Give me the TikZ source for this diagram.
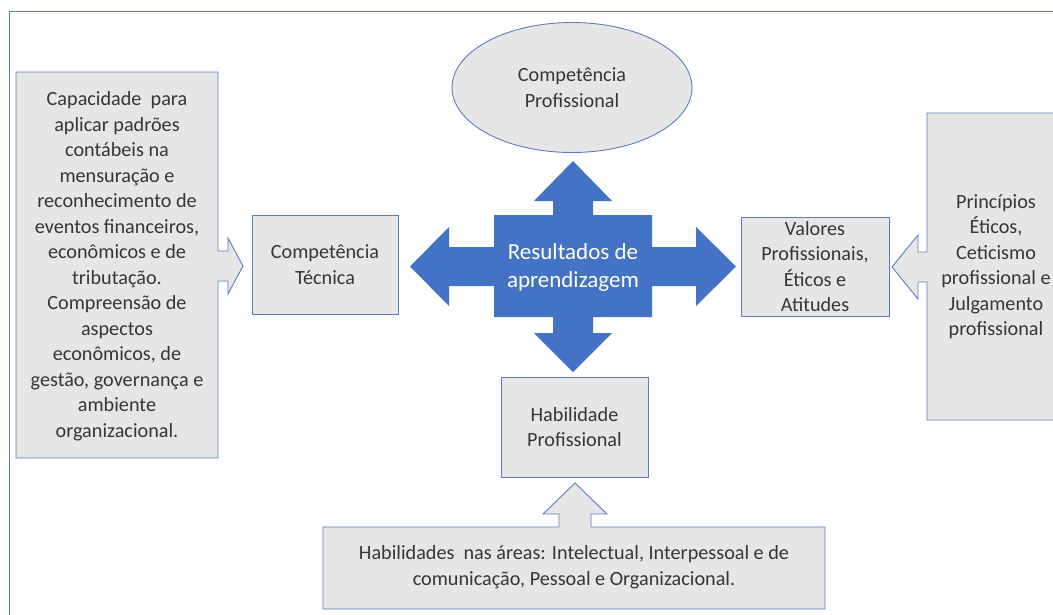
\documentclass[tikz,border=0pt]{standalone}
\usepackage{fontspec}
\setmainfont{Carlito}
\usetikzlibrary{shapes.geometric}
\definecolor{boxfill}{HTML}{E7E6E6}
\definecolor{boxline}{HTML}{5B7DBD}
\definecolor{txt}{HTML}{363636}
\definecolor{accent}{HTML}{4472C4}
\tikzset{
  shapefill/.style={fill=boxfill, draw=boxline, line width=0.9pt, line join=miter},
  boxnode/.style={shapefill, rectangle, inner sep=0pt, align=center, text=txt,
    font=\fontsize{20.2}{25.5}\selectfont},
  plaintext/.style={inner sep=0pt, align=center, text=txt,
    font=\fontsize{20.2}{25.5}\selectfont},
}
\begin{document}
\begin{tikzpicture}[x=1pt,y=-1pt]
\clip (0,0) rectangle (1053,614);
\fill[white] (0,0) rectangle (1053,614);
% outer frame
\draw[boxline, line width=0.9pt] (9,11) rectangle (1070,630);

% left callout (arrow to the right)
\draw[shapefill] (16,72) -- (218,72) -- (218,251) -- (228,251) -- (228,238) -- (243,266) -- (228,294) -- (228,281) -- (218,281) -- (218,458) -- (16,458) -- cycle;
\node[plaintext] (cap) at (117,266) {Capacidade\ \ para\\aplicar padrões\\contábeis na\\mensuração e\\reconhecimento de\\eventos financeiros,\\econômicos e de\\tributação.\\Compreensão de\\aspectos\\econômicos, de\\gestão, governança e\\ambiente\\organizacional.};

% right callout (arrow to the left)
\draw[shapefill] (1067,113) -- (927,113) -- (927,252) -- (918,252) -- (918,235) -- (892,267) -- (918,299) -- (918,282) -- (927,282) -- (927,420) -- (1067,420) -- cycle;
\node[plaintext] (eti) at (996,266.5) {Princípios\\Éticos,\\Ceticismo\\profissional e\\Julgamento\\profissional};

% bottom callout (arrow up)
\draw[shapefill] (323,527) -- (559,527) -- (559,514) -- (543,514) -- (575,483) -- (607,514) -- (591,514) -- (591,527) -- (825,527) -- (825,609) -- (323,609) -- cycle;
\node[plaintext] (hab) at (574,567) {Habilidades\ \ nas áreas: Intelectual, Interpessoal e de\\comunicação, Pessoal e Organizacional.};

% ellipse
\node[shapefill, ellipse, minimum width=240, minimum height=130, inner sep=0pt, align=center, text=txt,
  font=\fontsize{20.2}{25.5}\selectfont] (cp) at (572,87.5) {Competência\\Profissional};

% boxes
\node[boxnode, minimum width=146, minimum height=99] (tec) at (325,264.5) {Competência\\Técnica};
\node[boxnode, minimum width=148, minimum height=99] (val) at (815,266.5) {Valores\\Profissionais,\\Éticos e\\Atitudes};
\node[boxnode, minimum width=147, minimum height=100] (hp) at (574.5,427) {Habilidade\\Profissional};

% central quad arrow
\fill[accent] (494,215) -- (553,215) -- (553,201) -- (534,201) -- (573,161) -- (612,201) -- (593,201) -- (593,215)
  -- (652,215) -- (652,247) -- (696,247) -- (696,227) -- (736,266.5) -- (696,306) -- (696,286) -- (652,286)
  -- (652,317) -- (593,317) -- (593,333) -- (612,333) -- (573,372) -- (534,333) -- (553,333) -- (553,317)
  -- (494,317) -- (494,286) -- (449,286) -- (449,306) -- (410,266.5) -- (449,227) -- (449,247) -- (494,247) -- cycle;
\node[inner sep=0pt, align=center, text=white, font=\fontsize{23}{28}\selectfont] (res) at (573,267) {Resultados de\\aprendizagem};
\end{tikzpicture}
\end{document}
